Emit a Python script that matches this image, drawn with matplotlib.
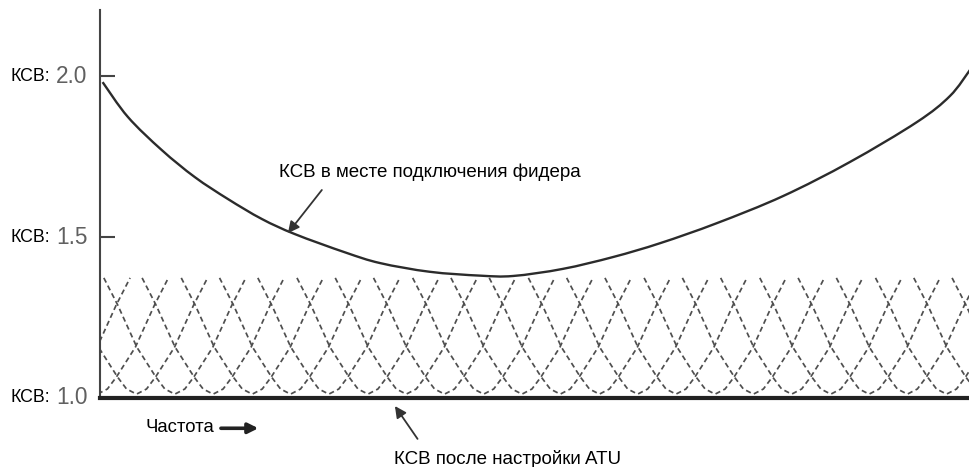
import matplotlib.pyplot as plt
from matplotlib.path import Path
from matplotlib.patches import PathPatch

plt.rcParams['font.family'] = ['Liberation Sans', 'DejaVu Sans']

W, H = 970, 467

# SWR at the feeder connection point (relative frequency 0..1)
freq = [0.003, 0.032, 0.071, 0.109, 0.147, 0.186, 0.224, 0.282, 0.322, 0.379, 0.437,
        0.475, 0.532, 0.590, 0.644, 0.709, 0.785, 0.862, 0.939, 0.977, 1.0]
swr_feed = [1.981, 1.873, 1.770, 1.686, 1.618, 1.556, 1.509, 1.452, 1.419, 1.392, 1.380,
            1.379, 1.401, 1.438, 1.481, 1.543, 1.627, 1.733, 1.857, 1.938, 2.019]

# one SWR curve after ATU tuning: offset from its centre frequency -> SWR
atu_offset = [-0.0816, -0.0655, -0.0437, -0.0218, -0.0115, 0.0, 0.0115, 0.0218, 0.0437, 0.0655, 0.0816]
atu_swr = [1.373, 1.288, 1.158, 1.065, 1.028, 1.012, 1.028, 1.065, 1.158, 1.288, 1.373]
atu_centres = [-0.047, -0.003, 0.042, 0.086, 0.130, 0.175, 0.219, 0.263, 0.308, 0.352,
               0.396, 0.441, 0.485, 0.529, 0.574, 0.618, 0.662, 0.707, 0.751, 0.795,
               0.840, 0.884, 0.928, 0.973, 1.017, 1.061]

yticks = [1.0, 1.5, 2.0]
ytick_labels = ['1.0', '1.5', '2.0']


def smooth_path(xs, ys):
    # Catmull-Rom through the points, drawn as cubic Bezier segments
    pts = list(zip(xs, ys))
    verts = [pts[0]]
    codes = [Path.MOVETO]
    for i in range(len(pts) - 1):
        p0 = pts[i - 1] if i > 0 else pts[i]
        p1, p2 = pts[i], pts[i + 1]
        p3 = pts[i + 2] if i + 2 < len(pts) else pts[i + 1]
        c1 = (p1[0] + (p2[0] - p0[0]) / 6, p1[1] + (p2[1] - p0[1]) / 6)
        c2 = (p2[0] - (p3[0] - p1[0]) / 6, p2[1] - (p3[1] - p1[1]) / 6)
        verts += [c1, c2, p2]
        codes += [Path.CURVE4] * 3
    return Path(verts, codes)


fig = plt.figure(figsize=(W / 100, H / 100), dpi=100)
ax = fig.add_axes([100 / W, (H - 398) / H, 870 / W, 388 / H])

for c in atu_centres:
    ax.plot([c + o for o in atu_offset], atu_swr, color='#4f4f4f', lw=1.25,
            dashes=(3, 2), zorder=2)

ax.add_patch(PathPatch(smooth_path(freq, swr_feed), facecolor='none',
                       edgecolor='#2b2b2b', lw=1.7, zorder=3))

ax.set_xlim(0, 1)
ax.set_ylim(1.0, 2.205)
ax.set_xticks([])
ax.set_yticks(yticks)
ax.set_yticklabels([])
ax.tick_params(axis='y', direction='in', length=11, width=1.5, color='#444444')

for s in ['top', 'right']:
    ax.spines[s].set_visible(False)
ax.spines['left'].set_linewidth(1.5)
ax.spines['left'].set_color('#444444')
ax.spines['bottom'].set_linewidth(3)
ax.spines['bottom'].set_color('#222222')

for v, lab in zip(yticks, ytick_labels):
    ax.annotate('КСВ:', xy=(0, v), xycoords=('axes fraction', 'data'),
                xytext=(-50, 0), textcoords='offset pixels', ha='right', va='center',
                fontsize=12.8, color='black')
    ax.annotate(lab, xy=(0, v), xycoords=('axes fraction', 'data'),
                xytext=(-44, 0), textcoords='offset pixels', ha='left', va='center',
                fontsize=16.3, color='#606060')

arrow = dict(arrowstyle='-|>', color='#333333', lw=1.3, mutation_scale=17,
             shrinkA=0, shrinkB=0)

ax.text(0.379, 1.702, 'КСВ в месте подключения фидера', ha='center', va='center',
        fontsize=13.5)
ax.annotate('', xy=(0.216, 1.512), xytext=(0.255, 1.646), arrowprops=arrow)

ax.text(0.468, 0.81, 'КСВ после настройки ATU', ha='center', va='center',
        fontsize=13.5, clip_on=False)
ax.annotate('', xy=(0.339, 0.975), xytext=(0.365, 0.873), arrowprops=arrow,
            annotation_clip=False)

ax.text(0.052, 0.909, 'Частота', ha='left', va='center', fontsize=13.3, clip_on=False)
ax.annotate('', xy=(0.182, 0.906), xytext=(0.139, 0.906), annotation_clip=False,
            arrowprops=dict(arrowstyle='-|>', color='#222222', lw=2.6,
                            mutation_scale=15, shrinkA=0, shrinkB=0))

fig.savefig('out.png', dpi=100)
